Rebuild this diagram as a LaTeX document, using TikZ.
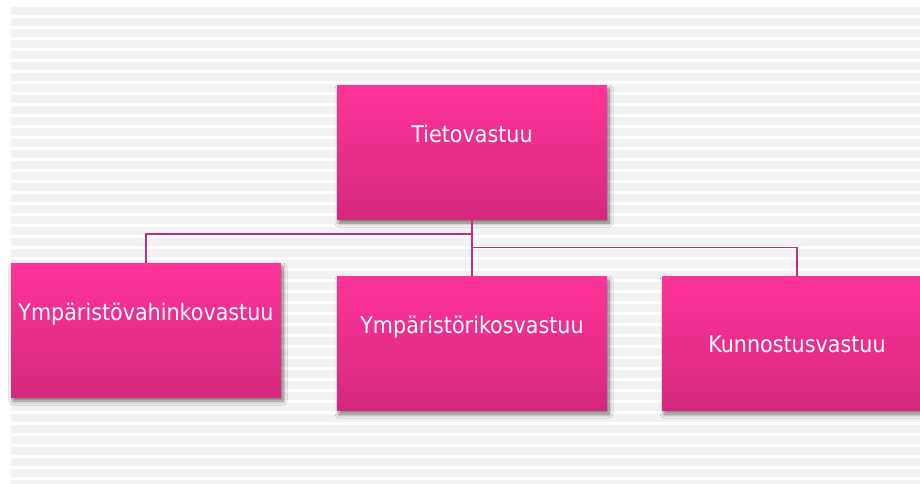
\documentclass[tikz,border=0pt]{standalone}
\usepackage{fontspec}
\setmainfont{DejaVu Sans Condensed}
\usetikzlibrary{shadows.blur}
\definecolor{stripe}{HTML}{F2F2F2}
\definecolor{pinktop}{HTML}{FF3399}
\definecolor{pinkmid}{HTML}{F22F92}
\definecolor{pinkbot}{HTML}{D4287E}
\definecolor{linkpink}{HTML}{C62D80}
\tikzset{
  box/.style={minimum width=270pt, minimum height=134pt, inner sep=0pt,
    top color=pinktop, middle color=pinkmid, bottom color=pinkbot, draw=none,
    blur shadow={shadow xshift=2pt, shadow yshift=-4pt, shadow opacity=55,
      shadow blur steps=8, shadow blur radius=4pt}},
  boxtext/.style={anchor=base, text=white, font=\fontsize{23}{27}\selectfont, inner sep=0pt},
  link/.style={draw=linkpink, line width=1.6pt}
}
\begin{document}
\begin{tikzpicture}[x=1pt,y=-1pt]
  \clip (0,0) rectangle (920,483);
  \fill[white] (0,0) rectangle (920,483);
  % striped background
  \foreach \k in {0,...,43}
    \fill[stripe] (11,{7+11*\k}) rectangle (920,{15+11*\k});

  % boxes
  \node[box] (top)   at (472,152) {};
  \node[box] (left)  at (146,330) {};
  \node[box] (mid)   at (472,343) {};
  \node[box] (right) at (797,343) {};

  % labels
  \node[boxtext] (topl)   at (472,142.7) {Tietovastuu};
  \node[boxtext] (leftl)  at (146,320.7) {Ympäristövahinkovastuu};
  \node[boxtext] (midl)   at (472,333.7) {Ympäristörikosvastuu};
  \node[boxtext] (rightl) at (797,352) {Kunnostusvastuu};

  % connectors
  \coordinate (j1) at (472,234);
  \coordinate (j2) at (472,247.5);
  \draw[link] (top.south) -- (mid.north);
  \draw[link] (j1) -| (left.north);
  \draw[link] (j2) -| (right.north);
\end{tikzpicture}
\end{document}
